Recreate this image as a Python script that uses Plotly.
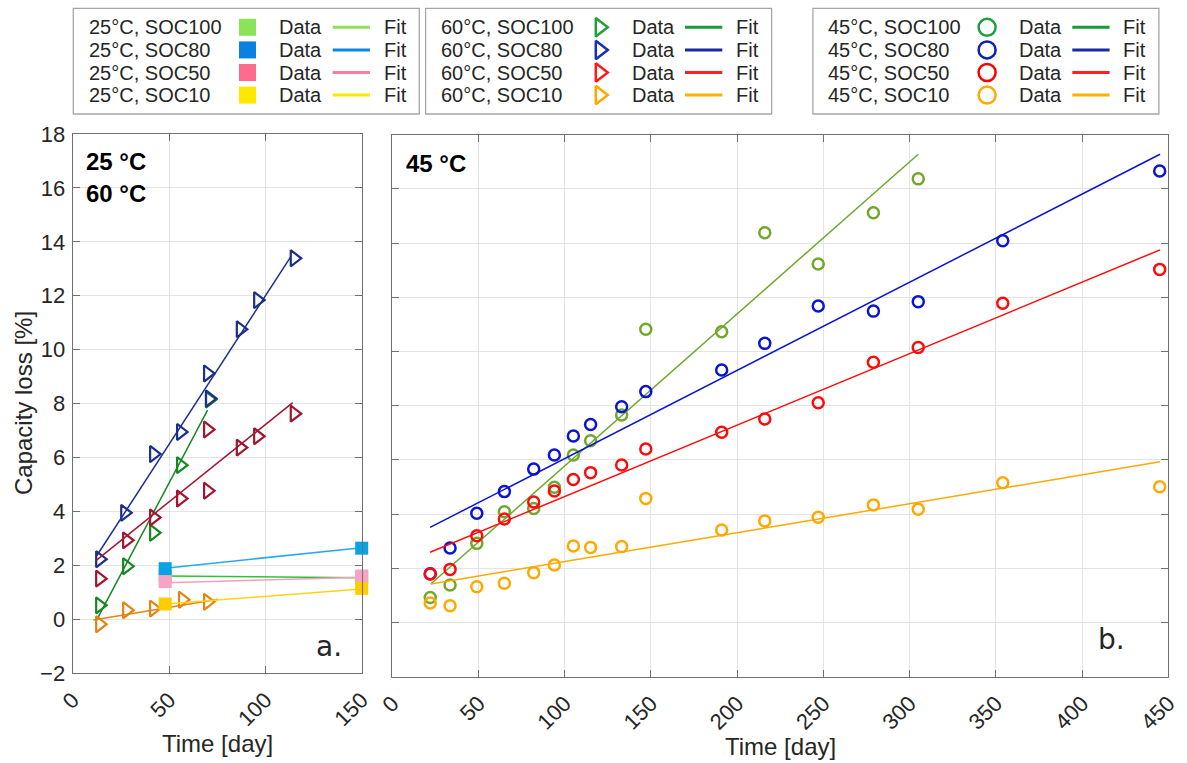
import plotly.graph_objects as go

W, H = 1187, 763
FONT = "Liberation Sans, Arial, Helvetica, sans-serif"
TXT = "#262626"

# ---------------- panel a: 60 °C (triangles) ----------------
t60_soc100 = [14, 28, 42, 56, 71]
q60_soc100 = [0.52, 1.97, 3.21, 5.72, 8.15]
t60_soc80 = [14, 27, 42, 56, 70, 71, 87, 96, 115]
q60_soc80 = [2.23, 3.95, 6.13, 6.95, 9.12, 8.19, 10.76, 11.84, 13.39]
t60_soc50 = [14, 28, 42, 56, 70, 70, 87, 96, 115]
q60_soc50 = [1.51, 2.93, 3.78, 4.48, 4.77, 7.04, 6.37, 6.79, 7.63]
t60_soc10 = [14, 28, 42, 57, 70]
q60_soc10 = [-0.18, 0.34, 0.40, 0.73, 0.65]

fit60_soc100_t = [12.4, 70]
fit60_soc100_q = [-0.03, 7.76]
fit60_soc80_t = [12.4, 113.3]
fit60_soc80_q = [2.35, 13.46]
fit60_soc50_t = [12.4, 114.2]
fit60_soc50_q = [2.2, 8.04]
fit60_soc10_t = [10.7, 75.4]
fit60_soc10_q = [-0.02, 0.75]

# ---------------- panel a: 25 °C (squares) ----------------
t25 = [48, 150]
q25_soc100 = [1.61, 1.55]
q25_soc80 = [1.88, 2.64]
q25_soc50 = [1.40, 1.61]
q25_soc10 = [0.57, 1.15]
fit25_t = [48, 150]
fit25_soc100_q = [1.61, 1.54]
fit25_soc80_q = [1.90, 2.66]
fit25_soc50_q = [1.36, 1.56]
fit25_soc10_q = [0.57, 1.13]

# ---------------- panel b: 45 °C (circles) ----------------
t45 = [22, 33.5, 49, 65, 82, 94, 105, 115, 133, 147, 191, 216, 247, 279, 305, 354, 445]
q45_soc100 = [0.92, 1.38, 2.92, 4.09, 4.21, 4.99, 6.18, 6.71, 7.66, 10.82, 10.73,
              14.38, 13.23, 15.12, 16.37]
q45_soc80 = [1.80, 2.75, 4.03, 4.83, 5.66, 6.18, 6.88, 7.31, 7.96, 8.52, 9.32,
             10.30, 11.68, 11.49, 11.84, 14.09, 16.66]
q45_soc50 = [1.79, 1.96, 3.20, 3.82, 4.45, 4.85, 5.28, 5.53, 5.81, 6.40, 7.02,
             7.51, 8.11, 9.60, 10.15, 11.78, 13.03]
q45_soc10 = [0.72, 0.62, 1.32, 1.45, 1.84, 2.12, 2.82, 2.77, 2.80, 4.58, 3.41,
             3.75, 3.88, 4.34, 4.18, 5.16, 5.01]
fit45_soc100_t = [22.3, 305]
fit45_soc100_q = [1.42, 17.28]
fit45_soc80_t = [21.9, 445.2]
fit45_soc80_q = [3.51, 17.28]
fit45_soc50_t = [21.9, 445.2]
fit45_soc50_q = [2.59, 13.75]
fit45_soc10_t = [22.3, 445.2]
fit45_soc10_q = [1.42, 5.93]

# legend texts
leg25 = ["25°C, SOC100", "25°C, SOC80", "25°C, SOC50", "25°C, SOC10"]
leg60 = ["60°C, SOC100", "60°C, SOC80", "60°C, SOC50", "60°C, SOC10"]
leg45 = ["45°C, SOC100", "45°C, SOC80", "45°C, SOC50", "45°C, SOC10"]

fig = go.Figure()


def line(x, y, color, ax="1", w=1.5):
    xa, ya = ("x", "y") if ax == "1" else ("x2", "y2")
    fig.add_trace(go.Scatter(x=x, y=y, mode="lines", line=dict(color=color, width=w),
                             xaxis=xa, yaxis=ya, showlegend=False, hoverinfo="skip"))


def pts(x, y, color, symbol, size, ax="1", lw=2, fill=False):
    xa, ya = ("x", "y") if ax == "1" else ("x2", "y2")
    mk = dict(symbol=symbol, size=size, color=color)
    if not fill:
        mk["line"] = dict(color=color, width=lw)
    else:
        mk["line"] = dict(width=0)
    fig.add_trace(go.Scatter(x=x, y=y, mode="markers", marker=mk, cliponaxis=False,
                             xaxis=xa, yaxis=ya, showlegend=False))


# panel a, 60 °C
c60 = ["#17871f", "#1b2f8e", "#a2142f", "#e58212"]
for (t, q, ft, fq, c) in [
    (t60_soc100, q60_soc100, fit60_soc100_t, fit60_soc100_q, c60[0]),
    (t60_soc80, q60_soc80, fit60_soc80_t, fit60_soc80_q, c60[1]),
    (t60_soc50, q60_soc50, fit60_soc50_t, fit60_soc50_q, c60[2]),
    (t60_soc10, q60_soc10, fit60_soc10_t, fit60_soc10_q, c60[3]),
]:
    line(ft, fq, c)
    pts(t, q, c, "triangle-right-open", 14, lw=2.2)

# panel a, 25 °C
c25_line = ["#2fc42f", "#2aa8ee", "#f49cc2", "#ffd21a"]
c25_mark = ["#6fd94a", "#0aa2e6", "#f8a3c6", "#ffcc00"]
for (q, fq, cl, cm) in [
    (q25_soc100, fit25_soc100_q, c25_line[0], c25_mark[0]),
    (q25_soc80, fit25_soc80_q, c25_line[1], c25_mark[1]),
    (q25_soc50, fit25_soc50_q, c25_line[2], c25_mark[2]),
    (q25_soc10, fit25_soc10_q, c25_line[3], c25_mark[3]),
]:
    line(fit25_t, fq, cl)
for (q, cm) in [(q25_soc100, c25_mark[0]), (q25_soc80, c25_mark[1]),
                (q25_soc50, c25_mark[2]), (q25_soc10, c25_mark[3])]:
    pts(t25, q, cm, "square", 13, fill=True)

# panel b, 45 °C
c45 = ["#70a82c", "#0a14d2", "#ff0a0a", "#ffa800"]
for (q, ft, fq, c) in [
    (q45_soc100, fit45_soc100_t, fit45_soc100_q, c45[0]),
    (q45_soc80, fit45_soc80_t, fit45_soc80_q, c45[1]),
    (q45_soc50, fit45_soc50_t, fit45_soc50_q, c45[2]),
    (q45_soc10, fit45_soc10_t, fit45_soc10_q, c45[3]),
]:
    line(ft, fq, c, ax="2")
    pts(t45[:len(q)], q, c, "circle-open", 11, ax="2", lw=2.5)

# ---------------- legends (overlay pixel axes x3/y3) ----------------
shapes = []
annotations = []
row_y0, row_dy = 27.3, 22.6
leg_boxes = [
    (86.7, leg25, "square", ["#8be35a", "#0a80e0", "#ff6a8f", "#ffe800"],
     ["#90e060", "#0a8ae6", "#ff7a9c", "#ffe800"], 17),
    (439.0, leg60, "triangle-right-open", ["#1ea03a", "#1630b0", "#ff1a1a", "#ffa800"],
     ["#1a9a3a", "#1a2aa0", "#ff2020", "#ffb000"], 16),
    (826.3, leg45, "circle-open", ["#1aa03c", "#1020b0", "#ff0000", "#ffaa00"],
     ["#1a9a3a", "#1a2aa0", "#ff2020", "#ffb000"], 17),
]
for (tx, labels, sym, mcols, lcols, msz) in leg_boxes:
    shapes.append(dict(type="rect", xref="x3", yref="y3", x0=tx - 13.4, x1=tx + 332.6,
                       y0=8.3, y1=114, line=dict(color="#a6a6a6", width=1.3),
                       fillcolor="rgba(0,0,0,0)", layer="above"))
    mx, my = [], []
    for i, lab in enumerate(labels):
        yy = row_y0 + i * row_dy
        annotations.append(dict(xref="x3", yref="y3", x=tx, y=yy, text=lab, showarrow=False,
                                xanchor="left", yanchor="middle",
                                font=dict(family=FONT, size=20, color=TXT)))
        annotations.append(dict(xref="x3", yref="y3", x=tx + 190.6, y=yy, text="Data",
                                showarrow=False, xanchor="left", yanchor="middle",
                                font=dict(family=FONT, size=20, color=TXT)))
        annotations.append(dict(xref="x3", yref="y3", x=tx + 295, y=yy, text="Fit",
                                showarrow=False, xanchor="left", yanchor="middle",
                                font=dict(family=FONT, size=20, color=TXT)))
        shapes.append(dict(type="line", xref="x3", yref="y3", x0=tx + 246, x1=tx + 283.3,
                           y0=yy, y1=yy, line=dict(color=lcols[i], width=3)))
        mx.append(tx + 160.8)
        my.append(yy)
    mk = dict(symbol=sym, size=msz, color=mcols)
    if sym.endswith("open"):
        mk["line"] = dict(color=mcols, width=2.5)
    else:
        mk["line"] = dict(width=0)
    fig.add_trace(go.Scatter(x=mx, y=my, mode="markers", marker=mk, xaxis="x3", yaxis="y3",
                             showlegend=False, hoverinfo="skip", cliponaxis=False))

# panel labels / titles
def ann(x, y, text, size, bold=False, family=FONT, angle=0, xa="center", ya="middle"):
    annotations.append(dict(xref="x3", yref="y3", x=x, y=y,
                            text=("<b>%s</b>" % text) if bold else text,
                            showarrow=False, xanchor=xa, yanchor=ya, textangle=angle,
                            font=dict(family=family, size=size, color="#000000" if bold else TXT)))

ann(84, 161, "25 °C", 24, bold=True, xa="left")
ann(84, 193, "60 °C", 24, bold=True, xa="left")
ann(404, 163, "45 °C", 24, bold=True, xa="left")
ann(329, 646, "a.", 28, family="DejaVu Sans", xa="center")
ann(1111, 639, "b.", 28, family="DejaVu Sans", xa="center")
ann(217, 743, "Time [day]", 24)
ann(780, 746, "Time [day]", 24)
ann(23, 403, "Capacity loss [%]", 24, angle=-90)

axis_common = dict(showgrid=True, gridcolor="#e4e4e4", gridwidth=1, showline=True,
                   linecolor="#707070", linewidth=1.3, mirror="ticks", ticks="inside",
                   ticklen=7, tickcolor="#707070", zeroline=False, automargin=False,
                   tickfont=dict(family=FONT, size=22, color=TXT), fixedrange=True)

fig.update_layout(
    width=W, height=H, margin=dict(l=0, r=0, t=0, b=0),
    paper_bgcolor="white", plot_bgcolor="rgba(0,0,0,0)", showlegend=False,
    xaxis=dict(axis_common, domain=[72.7 / W, 361.7 / W], range=[0, 150],
               tickvals=[0, 50, 100, 150], tickangle=-45, anchor="y",
               ticklabelstandoff=4),
    yaxis=dict(axis_common, domain=[1 - 673.3 / H, 1 - 134 / H], range=[-2, 18],
               dtick=2, anchor="x", ticklabelstandoff=2),
    xaxis2=dict(axis_common, domain=[392.3 / W, 1168.3 / W], range=[0, 450],
                dtick=50, tickangle=-45, anchor="y2", ticklabelstandoff=4),
    yaxis2=dict(axis_common, domain=[1 - 676.7 / H, 1 - 134.7 / H], range=[-2, 18],
                dtick=2, anchor="x2", showticklabels=False),
    xaxis3=dict(domain=[0, 1], range=[0, W], visible=False, fixedrange=True, anchor="y3"),
    yaxis3=dict(domain=[0, 1], range=[H, 0], visible=False, fixedrange=True, anchor="x3"),
    shapes=shapes, annotations=annotations,
)

fig.write_html("out.html")
